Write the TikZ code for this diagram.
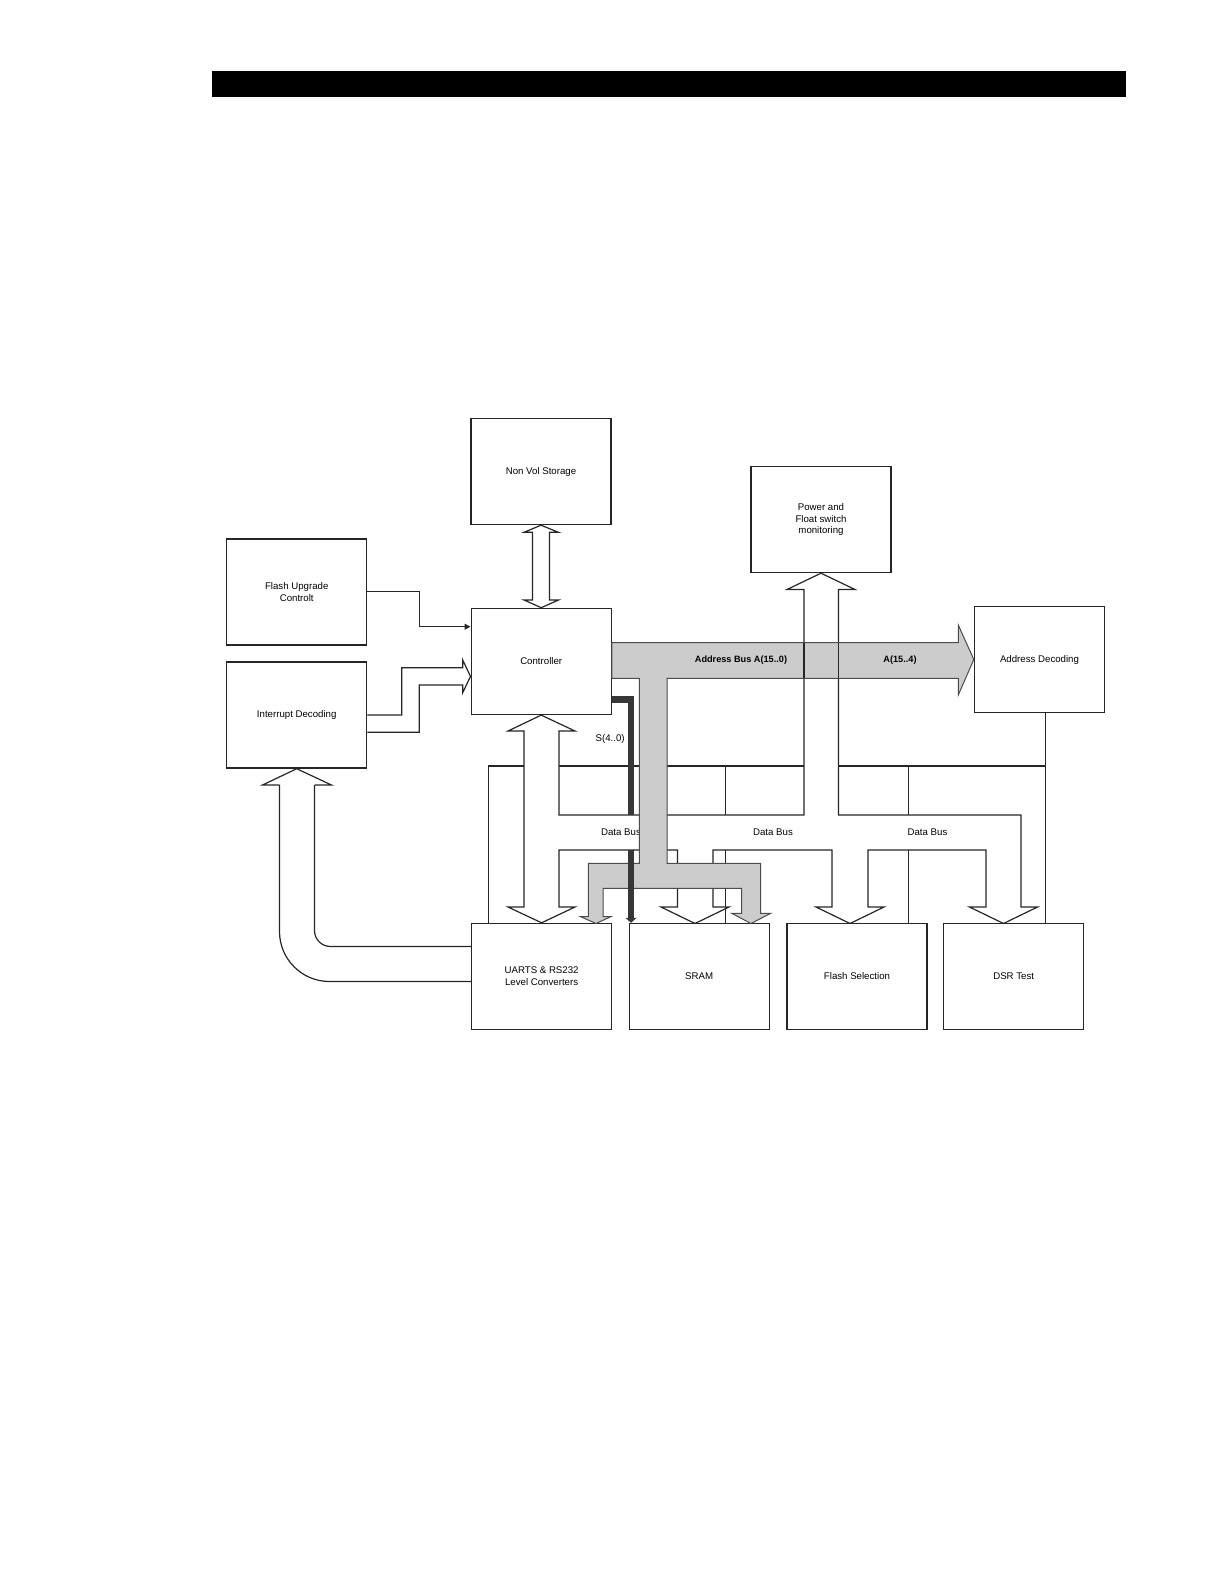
\documentclass[tikz,border=0pt]{standalone}
\usepackage{fontspec}
\setmainfont{Liberation Sans}
\usetikzlibrary{arrows.meta, calc}
\definecolor{busgray}{RGB}{204,204,204}
\definecolor{sbusdark}{RGB}{55,55,55}
\tikzset{
  blk/.style={
    draw=black!85, line width=0.7bp, fill=white,
    minimum width=70bp, minimum height=53bp,
    font=\fontsize{4.85}{5.9}\selectfont, inner sep=1bp, align=center,
  },
  wire/.style={draw=black!85, line width=0.6bp},
  hollow/.style={draw=black!85, line width=0.6bp, fill=white},
  abus/.style={draw=black!70, line width=0.5bp, fill=busgray},
  sbus/.style={draw=sbusdark, line width=3.4bp},
  buslbl/.style={font=\fontsize{4.6}{5.5}\selectfont\bfseries, inner sep=0.5bp},
  datalbl/.style={font=\fontsize{4.85}{5.9}\selectfont, inner sep=0.5bp},
}
\def\dbt{815}
\def\dbb{850}
\def\hb{907}
\def\csy{766}

\begin{document}
\begin{tikzpicture}[x=0.5bp, y=-0.5bp]
\useasboundingbox (0,0) rectangle (1224,1584);

% header rule
\fill[black] (212,71) rectangle (1126,97);

% =====================================================================
%  BLOCKS
% =====================================================================
\node[blk] (nvs) at (541,471.5) {Non Vol Storage};
\node[blk] (fup) at (296.7,591.8) {Flash Upgrade\\Controlt};
\node[blk] (intdec) at (296.7,715) {Interrupt Decoding};
\node[blk] (ctrl) at (541.2,661.4) {Controller};
\node[blk] (power) at (821,519.5) {Power and\\Float switch\\monitoring};
\node[blk, minimum width=65bp] (addrdec) at (1039.5,659.5) {Address Decoding};
\node[blk] (uarts) at (541.6,976.5) {UARTS \& RS232\\Level Converters};
\node[blk] (sram) at (699.2,976.5) {SRAM};
\node[blk] (flashsel) at (857,976.5) {Flash Selection};
\node[blk] (dsr) at (1013.7,976.5) {DSR Test};

% =====================================================================
%  LEFT SIDE
% =====================================================================

% --- Flash upgrade -> controller ---
\draw[wire, -{Triangle[length=3bp, width=3bp]}]
  (fup.east) -- (419.3,591.8) |- ($(ctrl.west)+(0,-34.7)$);

% --- Interrupt decoding -> controller (hollow) ---
\draw[wire] (intdec.east) -- (401.7,715) -- (401.7,667.7) -- (462.7,667.7)
  -- (462.7,660) -- ($(ctrl.west)+(0,15)$) -- (462.7,692.7) -- (462.7,685)
  -- (419.3,685) -- (419.3,732.3) -- ($(intdec.east)+(0,17.3)$);

% --- Non vol storage <-> controller ---
\draw[hollow] (nvs.south) -- (558.5,532.3) -- (549.5,532.3) -- (549.5,600)
  -- (558.5,600) -- (ctrl.north) -- (524,600) -- (532.5,600)
  -- (532.5,532.3) -- (524,532.3) -- cycle;

% --- UARTS -> interrupt decoding (bent) ---
\draw[wire, rounded corners=25bp]
  ($(uarts.west)+(0,5)$) -- (279.5,981.5) -- (279.5,785);
\draw[wire, rounded corners=8bp]
  ($(uarts.west)+(0,-30)$) -- (314.5,946.5) -- (314.5,785);
\draw[wire] (279.5,785) -- (262.5,785) -- (intdec.south) -- (331.5,785) -- (314.5,785);

% =====================================================================
%  SELECT LINES (address decoding -> lower blocks)
% =====================================================================
\coordinate (csbus) at (0,\csy);
\coordinate (csU) at ($(uarts.north west)+(17.3,0)$);
\coordinate (csS) at ($(sram.north west)+(97,0)$);
\coordinate (csF) at ($(flashsel.north west)+(122,0)$);
\coordinate (csD) at ($(dsr.north west)+(102.3,0)$);
\draw[wire] (addrdec.south -| csD) -- (csD);
\draw[wire] (csD |- csbus) -- (csU |- csbus) -- (csU);
\draw[wire] (csS |- csbus) -- (csS);
\draw[wire] (csF |- csbus) -- (csF);

% =====================================================================
%  DATA BUS (hollow)
% =====================================================================
\draw[hollow] (ctrl.south) -- (575,731) -- (559,731) -- (559,\dbt)
  -- (804,\dbt) -- (804,589.5) -- (787,589.5) -- (power.south)
  -- (855,589.5) -- (838.5,589.5) -- (838.5,\dbt)
  -- (1021,\dbt) -- (1021,\hb) -- (1037.5,\hb) -- (1003.5,923.5) -- (969.5,\hb) -- (986,\hb)
  -- (986,\dbb) -- (868,\dbb) -- (868,\hb) -- (884,\hb) -- (850,923.5) -- (816,\hb) -- (832,\hb)
  -- (832,\dbb) -- (713,\dbb) -- (713,\hb) -- (729,\hb) -- (695,923.5) -- (661,\hb) -- (677.5,\hb)
  -- (677.5,\dbb) -- (559,\dbb) -- (559,\hb) -- (575,\hb) -- (uarts.north)
  -- (508,\hb) -- (524,\hb) -- (524,731) -- (508,731) -- cycle;

\node[datalbl] (dbl1) at (621,832) {Data Bus};
\node[datalbl] (dbl2) at (773,832) {Data Bus};
\node[datalbl] (dbl3) at (927.5,832) {Data Bus};

% =====================================================================
%  ADDRESS BUS (grey)
% =====================================================================
\draw[abus] ($(ctrl.east)+(0,-18.7)$) -- (958.3,642.7) -- (958.3,625) -- (addrdec.west)
  -- (958.3,695) -- (958.3,678.3) -- (667,678.3) -- (667,863.3)
  -- (760.7,863.3) -- (760.7,913.3) -- (770.7,913.3) -- (751,923.5) -- (731.7,913.3) -- (741.5,913.3)
  -- (741.5,888.3) -- (603,888.3) -- (603,916.7) -- (610.7,916.7) -- (596,923.5) -- (580.7,916.7)
  -- (588.3,916.7) -- (588.3,863.3) -- (639.3,863.3) -- (639.3,678.3)
  -- ($(ctrl.east)+(0,16.9)$) -- cycle;

\node[buslbl] (abl1) at (741,660) {Address Bus A(15..0)};
\node[buslbl] (abl2) at (900,660) {A(15..4)};

% power shaft seen through the address bus
\draw[wire] (804,642.7) -- (804,678.3);
\draw[wire] (838.5,642.7) -- (838.5,678.3);

% =====================================================================
%  STATUS BUS S(4..0)
% =====================================================================
\coordinate (sb) at ($(sram.north west)+(2.5,0)$);
\coordinate (sbt) at (0,\dbt);
\coordinate (sbb) at (0,\dbb);
\draw[sbus] ($(ctrl.south east)+(0,-15.5)$) -| (sb |- sbt);
\draw[sbus, -{Triangle[length=2.5bp, width=5.5bp]}] (sb |- sbb) -- (sb);
\node[datalbl, anchor=east] (sbl) at (626,739) {S(4..0)};

\end{tikzpicture}
\end{document}
